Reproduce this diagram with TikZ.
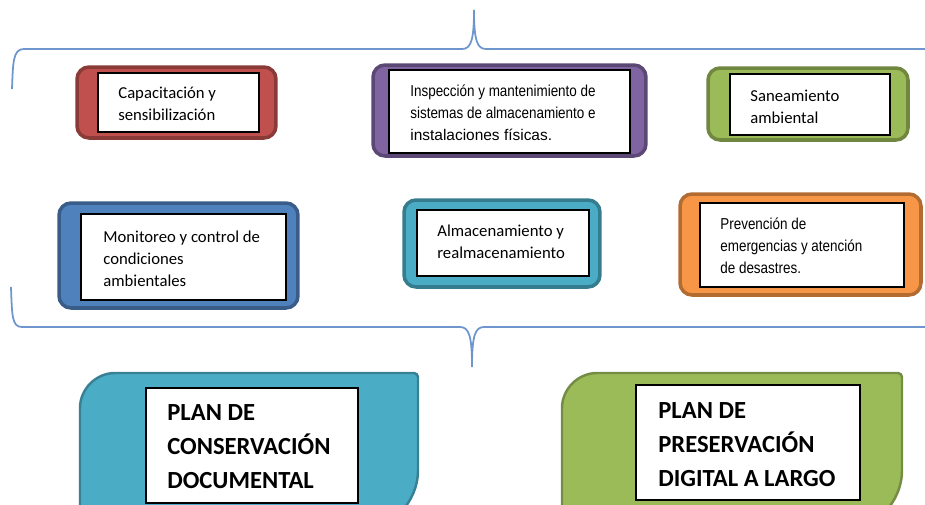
\documentclass[tikz,border=0pt]{standalone}
\usepackage{fontspec}
\setmainfont{Carlito}
\newfontfamily\arialfont{Liberation Sans}
\newfontfamily\arialnarrow[FakeStretch=0.85]{Liberation Sans}
\definecolor{rojo}{RGB}{192,80,77}
\definecolor{morado}{RGB}{128,100,162}
\definecolor{verde}{RGB}{155,187,89}
\definecolor{azul}{RGB}{79,129,189}
\definecolor{turquesa}{RGB}{75,172,198}
\definecolor{naranja}{RGB}{247,150,70}
\definecolor{llaveazul}{RGB}{110,150,205}
\begin{document}
\begin{tikzpicture}[x=0.02cm,y=-0.02cm,
  caja/.style={draw=#1!72!black, fill=#1, line width=2pt, rounded corners=0.24cm},
  hoja/.style={draw=black, fill=white, line width=0.8pt},
  texto/.style={anchor=west, align=left, inner sep=0pt, font=\fontsize{9.5}{12.5}\selectfont},
  textoarial/.style={texto, font=\arialnarrow\fontsize{9}{12.5}\selectfont},
  llave/.style={draw=llaveazul, line width=1pt},
  plan/.style={draw=#1!75!black, fill=#1, line width=1.4pt},
  textoplan/.style={texto, font=\bfseries\fontsize{14}{19.3}\selectfont}]
\useasboundingbox (0,0) rectangle (925,504);
\clip (0,0) rectangle (925,504);

\draw [llave] (12,89) .. controls (13,62) and (13,49) .. (24,49) -- (462,49)
  .. controls (471,49) and (474,40) .. (474,10)
  .. controls (474,40) and (477,49) .. (486,49) -- (930,49);
\draw [llave] (11,287) .. controls (12,316) and (12,327) .. (22,327) -- (460,327)
  .. controls (469,327) and (472,336) .. (472,367)
  .. controls (472,336) and (475,327) .. (484,327) -- (930,327);

\node (capacitacion) at (176.5,102.5) [caja=rojo, minimum width=3.98cm, minimum height=1.42cm] {};
\node (capacitacionh) at (178.5,102.5) [hoja, minimum width=3.22cm, minimum height=1.18cm] {};
\node (capacitaciont) at (118,104) [texto] {Capacitación y\\sensibilización};

\node (inspeccion) at (509.5,110.5) [caja=morado, minimum width=5.46cm, minimum height=1.82cm] {};
\node (inspeccionh) at (509.5,111.5) [hoja, minimum width=4.82cm, minimum height=1.66cm] {};
\node (inspecciont) at (410,113) [textoarial]
  {Inspección y mantenimiento de\\sistemas de almacenamiento e\\{\arialfont\fontsize{8.8}{12.5}\selectfont instalaciones físicas.}};

\node (saneamiento) at (808,104) [caja=verde, minimum width=4cm, minimum height=1.44cm] {};
\node (saneamientoh) at (810,104.5) [hoja, minimum width=3.2cm, minimum height=1.22cm] {};
\node (saneamientot) at (750,106.5) [texto] {Saneamiento\\ambiental};

\node (monitoreo) at (178.5,255.5) [caja=azul, minimum width=4.78cm, minimum height=2.1cm] {};
\node (monitoreoh) at (183.5,257) [hoja, minimum width=4.1cm, minimum height=1.72cm] {};
\node (monitoreot) at (103,259) [texto] {Monitoreo y control de\\condiciones\\ambientales};

\node (almacenamiento) at (502,243.5) [caja=turquesa, minimum width=3.92cm, minimum height=1.74cm] {};
\node (almacenamientoh) at (503,243) [hoja, minimum width=3.44cm, minimum height=1.32cm] {};
\node (almacenamientot) at (437,241.5) [texto] {Almacenamiento y\\realmacenamiento};

\node (prevencion) at (800.5,244.5) [caja=naranja, minimum width=4.82cm, minimum height=2.02cm] {};
\node (prevencionh) at (802,245) [hoja, minimum width=4.08cm, minimum height=1.68cm] {};
\node (prevenciont) at (720,245.5) [textoarial] {Prevención de\\emergencias y atención\\de desastres.};

\draw [plan=turquesa] (80,545) -- (80,408) .. controls (80,389) and (96,373) .. (115,373)
  -- (414,373) .. controls (416,373) and (418,375) .. (418,377)
  -- (418,470) .. controls (418,503) and (391,530) .. (358,530) -- (80,545);
\node (conservacionh) at (252,445.5) [hoja, minimum width=4.24cm, minimum height=2.3cm] {};
\node (conservaciont) at (167,447) [textoplan] {PLAN DE\\CONSERVACIÓN\\DOCUMENTAL};

\draw [plan=verde] (562,545) -- (562,408) .. controls (562,389) and (578,373) .. (597,373)
  -- (898,373) .. controls (900,373) and (902,375) .. (902,377)
  -- (902,470) .. controls (902,503) and (875,530) .. (842,530) -- (562,545);
\node (preservacionh) at (748,442.5) [hoja, minimum width=4.48cm, minimum height=2.3cm] {};
\node (preservaciont) at (658,444.5) [textoplan] {PLAN DE\\PRESERVACIÓN\\DIGITAL A LARGO};
\end{tikzpicture}
\end{document}
